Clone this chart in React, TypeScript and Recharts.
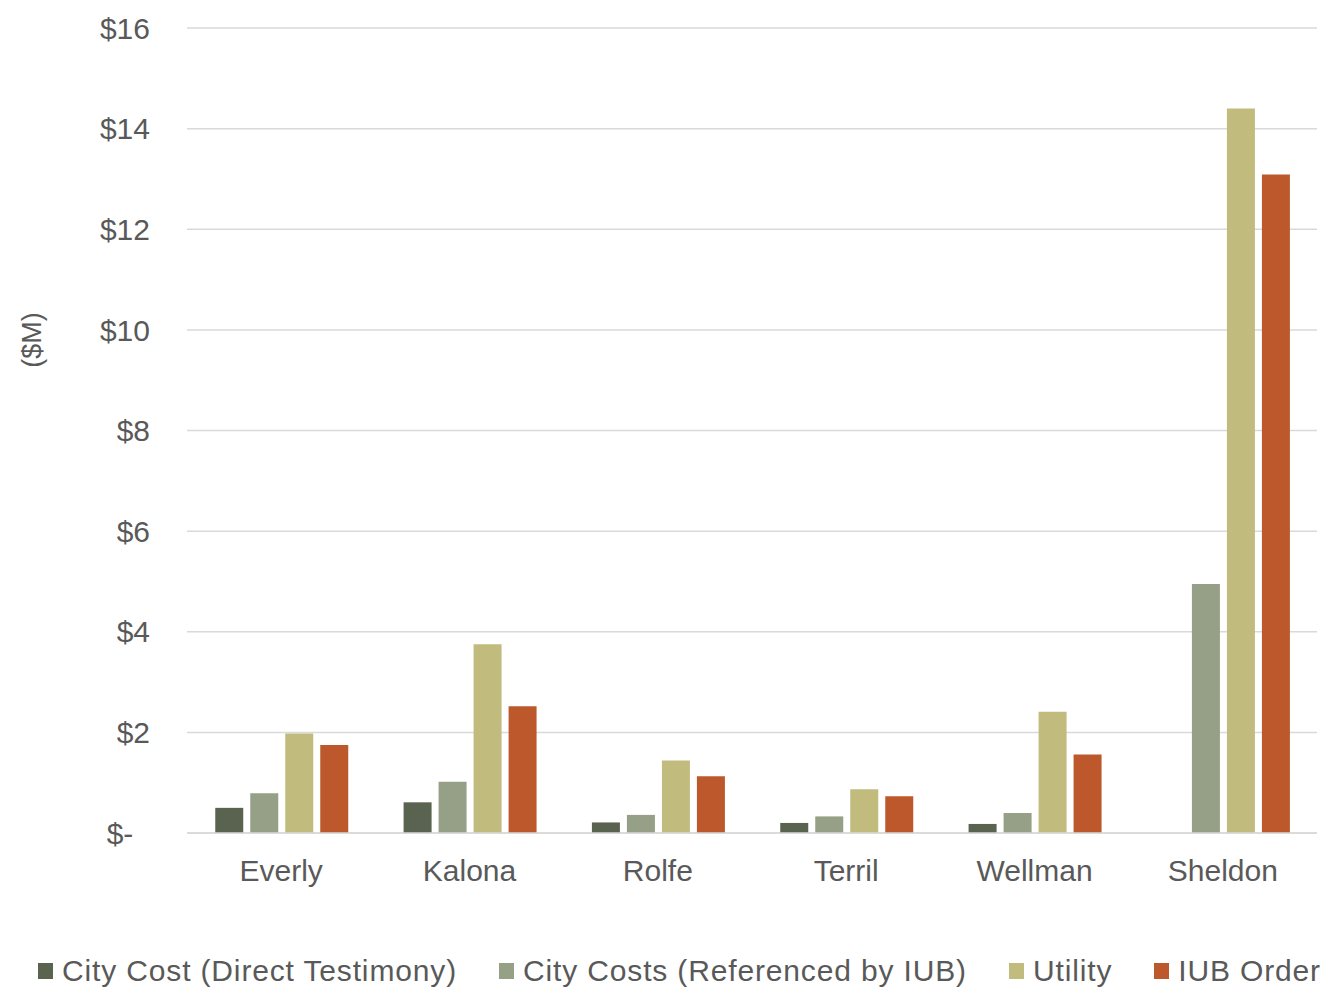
import React from 'react';
import { BarChart, Bar, XAxis, YAxis, CartesianGrid, Legend, Label } from 'recharts';

// Cost comparison per city, in millions of dollars
const cities = ['Everly', 'Kalona', 'Rolfe', 'Terril', 'Wellman', 'Sheldon'];
const cityCostDirect = [0.5, 0.61, 0.21, 0.2, 0.18, 0];
const cityCostsIUB = [0.79, 1.02, 0.36, 0.33, 0.4, 4.95];
const utility = [1.98, 3.75, 1.44, 0.87, 2.41, 14.4];
const iubOrder = [1.75, 2.52, 1.13, 0.73, 1.56, 13.09];
const yTicks = [0, 2, 4, 6, 8, 10, 12, 14, 16];

const seriesDefs = [
  { key: 'direct', name: 'City Cost (Direct Testimony)', color: '#5A6350' },
  { key: 'referenced', name: 'City Costs (Referenced by IUB)', color: '#95A086' },
  { key: 'utility', name: 'Utility', color: '#C2BB7E' },
  { key: 'order', name: 'IUB Order', color: '#BD582C' },
];

const rows = cities.map((city, i) => ({
  city,
  direct: cityCostDirect[i],
  referenced: cityCostsIUB[i],
  utility: utility[i],
  order: iubOrder[i],
}));

const FONT = '"Liberation Sans", Arial, sans-serif';
const TEXT = '#595959';

// Accounting-style format: zero shows as a dash with trailing padding
const formatMoney = (v: number) => (v === 0 ? '$-\u00A0\u00A0' : `$${v}`);

const LegendContent = () => (
  <div
    style={{
      display: 'flex',
      alignItems: 'center',
      paddingLeft: 38,
      paddingTop: 20,
      height: 55,
      boxSizing: 'border-box',
      fontFamily: FONT,
      fontSize: 30,
      letterSpacing: 0.85,
      color: TEXT,
      whiteSpace: 'nowrap',
    }}
  >
    {seriesDefs.map((s, i) => (
      <div key={s.key} style={{ display: 'flex', alignItems: 'center', marginRight: i < seriesDefs.length - 1 ? 42 : 0 }}>
        <span style={{ display: 'inline-block', width: 15, height: 16, background: s.color, marginRight: 9 }} />
        <span>{s.name}</span>
      </div>
    ))}
  </div>
);

export default function App() {
  return (
    <div style={{ position: 'absolute', left: 0, top: 0, width: 1332, height: 988, background: '#fff' }}>
      <BarChart
        width={1332}
        height={988}
        data={rows}
        margin={{ top: 28, right: 15, bottom: 0, left: 0 }}
        barCategoryGap="15%"
        barGap={7}
      >
        <CartesianGrid vertical={false} stroke="#D9D9D9" strokeWidth={1.5} />
        <XAxis
          dataKey="city"
          axisLine={{ stroke: '#D9D9D9', strokeWidth: 1.5 }}
          tickLine={false}
          tickMargin={21}
          height={100}
          tick={{ fill: TEXT, fontSize: 30, fontFamily: FONT }}
        />
        <YAxis
          width={187}
          domain={[0, 16]}
          ticks={yTicks}
          tickFormatter={formatMoney}
          axisLine={false}
          tickLine={false}
          tickMargin={31}
          tick={{ fill: TEXT, fontSize: 30, fontFamily: FONT }}
        >
          <Label
            content={() => (
              <text
                transform="translate(32,340) rotate(-90)"
                textAnchor="middle"
                dominantBaseline="central"
                fill={TEXT}
                fontSize={27}
                fontFamily={FONT}
              >
                ($M)
              </text>
            )}
          />
        </YAxis>
        <Legend
          verticalAlign="bottom"
          align="left"
          height={55}
          wrapperStyle={{ left: 0, width: 1332 }}
          content={LegendContent}
        />
        {seriesDefs.map((s) => (
          <Bar key={s.key} dataKey={s.key} name={s.name} fill={s.color} isAnimationActive={false} />
        ))}
      </BarChart>
    </div>
  );
}
